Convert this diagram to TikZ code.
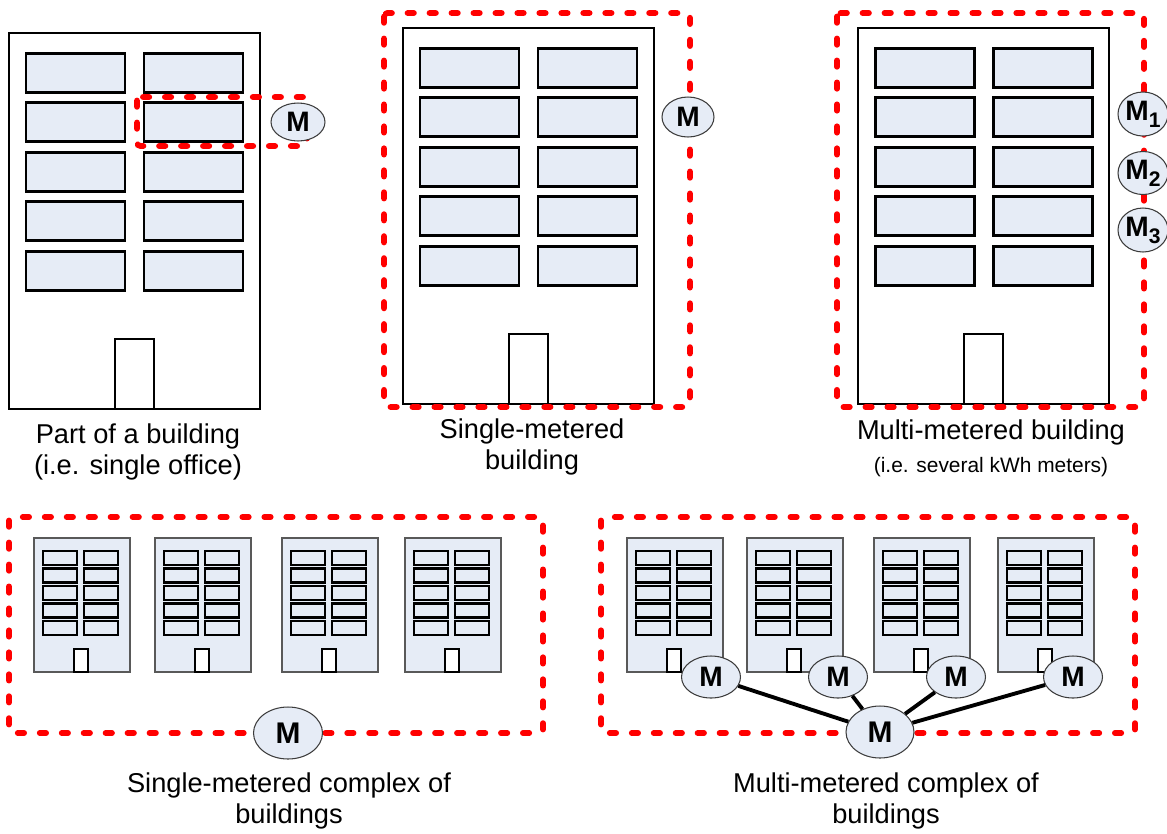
\documentclass[tikz,border=0pt]{standalone}
\usepackage{fontspec}
\setmainfont{Liberation Sans}
\usetikzlibrary{shapes.geometric}
\definecolor{winfill}{RGB}{230,236,246}
\definecolor{meterline}{RGB}{60,60,60}
\tikzset{
  redbox/.style={draw=red, line width=3.3pt, dash pattern=on 3.6pt off 8.9pt, line cap=round, rounded corners=2pt},
  meter/.style={ellipse, draw=meterline, line width=0.6pt, fill=winfill, inner sep=0pt, font=\fontsize{16}{16}\selectfont\bfseries},
  link/.style={line width=2.2pt, draw=black},
  lbl/.style={align=center, font=\fontsize{15.5}{17.6}\selectfont},
  bigwin/.style={draw=black, line width=1.7pt, fill=winfill},
  smallwin/.style={draw=black, line width=1.4pt, fill=winfill},
  bigbldg/.pic={
    \draw[line width=1.1pt, fill=white] (0,0) rectangle (251,376);
    \foreach \i in {0,...,4}{
      \draw[bigwin] (17,{20+49.5*\i}) rectangle (116,{59+49.5*\i});
      \draw[bigwin] (135,{20+49.5*\i}) rectangle (234,{59+49.5*\i});
    }
    \draw[line width=0.6pt, fill=white] (106,306) rectangle (145,376);
  },
  smallbldg/.pic={
    \draw[draw=gray!70!black, line width=0.8pt, fill=winfill] (0,0) rectangle (96,134);
    \foreach \i in {0,...,4}{
      \draw[smallwin] (9,{13+17.5*\i}) rectangle (43,{27+17.5*\i});
      \draw[smallwin] (50,{13+17.5*\i}) rectangle (84,{27+17.5*\i});
    }
    \draw[line width=0.6pt, fill=white] (40,111) rectangle (54,134);
  }
}
\begin{document}
\begin{tikzpicture}[x=0.02cm, y=-0.02cm]
\useasboundingbox (0,0) rectangle (1167,833);

% top buildings
\pic at (9,33) {bigbldg};
\pic at (403,28) {bigbldg};
\pic at (858,28) {bigbldg};

% bottom buildings
\foreach \bx in {34,155,282,405} { \pic at (\bx,538) {smallbldg}; }
\foreach \bx in {627,747,874,998} { \pic at (\bx,538) {smallbldg}; }

% red dashed boundaries
\draw[redbox] (137,97) rectangle (307,146);
\draw[redbox] (384,13) rectangle (690,407);
\draw[redbox] (837,13) rectangle (1144,407);
\draw[redbox] (9,517) rectangle (543,733);
\draw[redbox] (601,517) rectangle (1135,733);

% meters
\node[meter, minimum width=1.08cm, minimum height=0.76cm] (ma) at (298,122) {M};
\node[meter, minimum width=1.04cm, minimum height=0.8cm] (mb) at (688,117) {M};
\node[meter, minimum width=1.0cm, minimum height=0.88cm] (mc1) at (1143,114) {M\raisebox{-4pt}{\fontsize{12}{12}\selectfont 1}};
\node[meter, minimum width=1.0cm, minimum height=0.86cm] (mc2) at (1143,173) {M\raisebox{-4pt}{\fontsize{12}{12}\selectfont 2}};
\node[meter, minimum width=1.0cm, minimum height=0.88cm] (mc3) at (1143,230) {M\raisebox{-4pt}{\fontsize{12}{12}\selectfont 3}};
\node[meter, minimum width=1.38cm, minimum height=1.04cm, font=\fontsize{17}{17}\selectfont\bfseries] (md) at (288,733) {M};

\node[meter, minimum width=1.18cm, minimum height=0.84cm] (me1) at (711,677) {M};
\node[meter, minimum width=1.18cm, minimum height=0.84cm] (me2) at (838,677) {M};
\node[meter, minimum width=1.18cm, minimum height=0.84cm] (me3) at (956,677) {M};
\node[meter, minimum width=1.18cm, minimum height=0.84cm] (me4) at (1073,677) {M};
\node[meter, minimum width=1.36cm, minimum height=1.04cm, font=\fontsize{17}{17}\selectfont\bfseries] (mec) at (880,732) {M};

\draw[link] (me1) -- (mec);
\draw[link] (me2) -- (mec);
\draw[link] (me3) -- (mec);
\draw[link] (me4) -- (mec);

% labels
\node[lbl] (t1) at (138,452) {Part of a building\\(i.e. single office)};
\node[lbl] (t2) at (532,447) {Single-metered\\building};
\node[lbl] (t3) at (991,432) {Multi-metered building};
\node[font=\fontsize{11.9}{14}\selectfont] (t3b) at (991,467) {(i.e. several kWh meters)};
\node[lbl] (t4) at (289,801) {Single-metered complex of\\buildings};
\node[lbl] (t5) at (886,801) {Multi-metered complex of\\buildings};
\end{tikzpicture}
\end{document}
